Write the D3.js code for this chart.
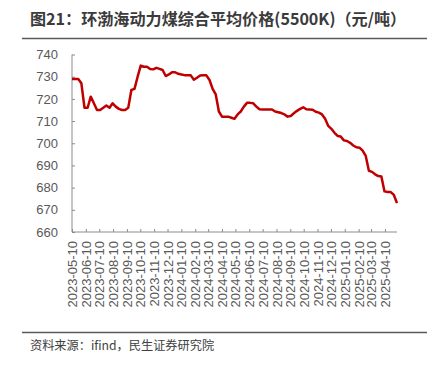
<!DOCTYPE html>
<html>
<head>
<meta charset="utf-8">
<script src="https://cdn.jsdelivr.net/npm/d3@7"></script>
<style>
  body { margin: 0; background: #fff; }
  svg { display: block; font-family: "Noto Sans CJK SC", "Liberation Sans", sans-serif; }
</style>
</head>
<body>
<div id="chart"></div>
<script>
// Weekly series, first point 2023-05-10
const startDate = '2023-05-10';
const prices = [
  729, 729, 729, 727, 716, 716, 721, 718, 715, 715,
  716, 717, 716, 718, 716.5, 715.5, 715, 715, 716, 724,
  724.5, 730, 735, 734.5, 734.5, 733.5, 733.3, 734, 733.5, 733,
  730.3, 731, 732, 732, 731.3, 731, 730.7, 730.6, 730.6, 728.6,
  729.5, 730.5, 730.6, 730.6, 728.5, 724.5, 722, 714.3, 712, 712,
  712, 711.5, 711, 713, 714.3, 716.5, 718.2, 718.2, 718, 716.5,
  715.3, 715.2, 715.2, 715.2, 715.2, 714.3, 714, 713.6, 713, 712,
  712.3, 713.5, 714.6, 715.5, 716.2, 715.3, 715.2, 715.1, 714.2, 713.8,
  713, 711, 707.8, 706.5, 704.7, 703.3, 703, 701.3, 701, 700.2,
  699, 698.2, 698, 696.7, 694.3, 687.6, 687.1, 686, 685.2, 685,
  678.3, 678, 678, 676.7, 673
];
const tickLabels = [
  '2023-05-10', '2023-06-10', '2023-07-10', '2023-08-10', '2023-09-10', '2023-10-10',
  '2023-11-10', '2023-12-10', '2024-01-10', '2024-02-10', '2024-03-10', '2024-04-10',
  '2024-05-10', '2024-06-10', '2024-07-10', '2024-08-10', '2024-09-10', '2024-10-10',
  '2024-11-10', '2024-12-10', '2025-01-10', '2025-02-10', '2025-03-10', '2025-04-10'
];
const yTicks = [660, 670, 680, 690, 700, 710, 720, 730, 740];
const titleText = '图21：环渤海动力煤综合平均价格(5500K)（元/吨）';
const sourceText = '资料来源：ifind，民生证券研究院';

const W = 437, H = 365;
const margin = { top: 54.5, right: 40, bottom: 133, left: 72 };
const width = W - margin.left - margin.right;
const height = H - margin.top - margin.bottom;

const parse = d3.timeParse('%Y-%m-%d');
const t0 = parse(startDate);
const data = prices.map((v, i) => ({ date: d3.timeDay.offset(t0, i * 7), value: v }));

const svg = d3.select('#chart').append('svg')
  .attr('width', W).attr('height', H);

// Title + rules
svg.append('text')
  .attr('x', 30).attr('y', 25)
  .style('font-size', '16.1px').style('font-weight', '700').style('fill', '#3b3b3b')
  .text(titleText);
svg.append('line')
  .attr('x1', 22).attr('x2', 427).attr('y1', 38.5).attr('y2', 38.5)
  .attr('stroke', '#595959').attr('stroke-width', 1.5);
svg.append('line')
  .attr('x1', 22).attr('x2', 427).attr('y1', 332.5).attr('y2', 332.5)
  .attr('stroke', '#595959').attr('stroke-width', 1.5);
svg.append('text')
  .attr('x', 30).attr('y', 350)
  .style('font-size', '12.2px').style('fill', '#404040')
  .text(sourceText);

const g = svg.append('g')
  .attr('transform', `translate(${margin.left},${margin.top})`);

const x = d3.scaleTime()
  .domain(d3.extent(data, d => d.date))
  .range([0, width]);
const y = d3.scaleLinear().domain([660, 740]).range([height, 0]);

// Y axis
g.append('g')
  .call(d3.axisLeft(y).tickValues(yTicks).tickSize(-3).tickPadding(14))
  .call(a => a.select('.domain').attr('stroke', '#8c8c8c').attr('d', `M0,0V${height}`))
  .call(a => a.selectAll('.tick line').attr('stroke', '#8c8c8c'))
  .call(a => a.selectAll('.tick text')
    .style('font-size', '13px').style('fill', '#595959').style('font-family', 'inherit'));

// X axis
g.append('g')
  .attr('transform', `translate(0,${height})`)
  .call(d3.axisBottom(x).tickValues(tickLabels.map(parse)).tickSize(-3).tickFormat(d3.timeFormat('%Y-%m-%d')))
  .call(a => a.select('.domain').attr('stroke', '#8c8c8c').attr('d', `M0,0H${width}`))
  .call(a => a.selectAll('.tick line').attr('stroke', '#8c8c8c'))
  .call(a => a.selectAll('.tick text')
    .attr('transform', 'rotate(-90)')
    .attr('text-anchor', 'end')
    .attr('x', -9).attr('y', 0).attr('dy', '0.35em')
    .style('font-size', '13px').style('fill', '#595959').style('font-family', 'inherit'));

// Line
g.append('path')
  .datum(data)
  .attr('fill', 'none')
  .attr('stroke', '#c00000')
  .attr('stroke-width', 2.5)
  .attr('stroke-linejoin', 'round')
  .attr('d', d3.line().x(d => x(d.date)).y(d => y(d.value)));
</script>
</body>
</html>
